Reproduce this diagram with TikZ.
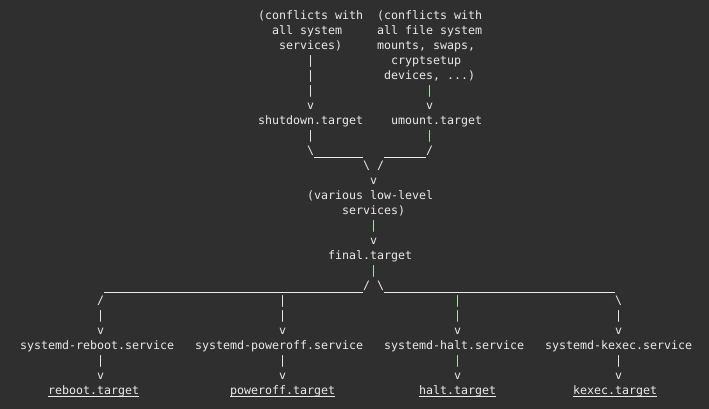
\documentclass[tikz,border=0pt]{standalone}
\usepackage{fontspec}
\setmonofont{DejaVu Sans Mono}
\definecolor{bg}{HTML}{2F2F2F}
\definecolor{fg}{HTML}{EAEAEA}
\definecolor{gn}{HTML}{A8E8A8}
\tikzset{
  tx/.style={anchor=base west, inner sep=0pt, outer sep=0pt, text=fg,
             font=\ttfamily\fontsize{11.63}{15}\selectfont},
  gx/.style={tx, text=gn},
  rule/.style={draw=fg, line width=0.9pt},
  uline/.style={draw=fg, line width=0.9pt}
}
\begin{document}
\begin{tikzpicture}
\fill[bg] (0,0) rectangle (709pt,-409pt);
\useasboundingbox (0,0) rectangle (709pt,-409pt);
\begin{scope}[x=7pt, y=-15pt, shift={(20pt,-19.8pt)}]
% top labels
\node[tx] (c1a) at (34,0) {(conflicts with};
\node[tx] (c2a) at (51,0) {(conflicts with};
\node[tx] (c1b) at (36,1) {all system};
\node[tx] (c2b) at (51,1) {all file system};
\node[tx] (c1c) at (37,2) {services)};
\node[tx] (c2c) at (51,2) {mounts, swaps,};
\node[tx] (c2d) at (53,3) {cryptsetup};
\node[tx] (c2e) at (52,4) {devices, ...)};
% shutdown column
\node[tx] (s1) at (41,3) {|};
\node[tx] (s2) at (41,4) {|};
\node[tx] (s3) at (41,5) {|};
\node[tx] (s4) at (41,6) {v};
\node[gx] (u1) at (58,5) {|};
\node[tx] (u2) at (58,6) {v};
\node[tx] (shut) at (34,7) {shutdown.target};
\node[tx] (umnt) at (53,7) {umount.target};
\node[tx] (s5) at (41,8) {|};
\node[gx] (u3) at (58,8) {|};
\node[tx] (s6) at (41,9) {\textbackslash};
\node[tx] (u4) at (58,9) {/};
\coordinate (l1a) at (42,9.147);
\coordinate (l1b) at (49,9.147);
\coordinate (l2a) at (52,9.147);
\coordinate (l2b) at (58,9.147);
\draw[rule] (l1a) -- (l1b);
\draw[rule] (l2a) -- (l2b);
\node[tx] (m1) at (49,10) {\textbackslash};
\node[tx] (m2) at (51,10) {/};
\node[tx] (m3) at (50,11) {v};
\node[tx] (low1) at (41,12) {(various low-level};
\node[tx] (low2) at (46,13) {services)};
\node[gx] (m4) at (50,14) {|};
\node[tx] (m5) at (50,15) {v};
\node[tx] (fin) at (44,16) {final.target};
\node[gx] (m6) at (50,17) {|};
\node[tx] (m7) at (49,18) {/};
\node[tx] (m8) at (51,18) {\textbackslash};
\coordinate (l3a) at (12,18.167);
\coordinate (l3b) at (49,18.167);
\coordinate (l4a) at (52,18.167);
\coordinate (l4b) at (85,18.167);
\draw[rule] (l3a) -- (l3b);
\draw[rule] (l4a) -- (l4b);
% branches
\node[tx] (a1) at (11,19) {/};
\node[tx] (b1) at (37,19) {|};
\node[gx] (c1) at (62,19) {|};
\node[tx] (d1) at (85,19) {\textbackslash};
\node[tx] (a2) at (11,20) {|};
\node[tx] (b2) at (37,20) {|};
\node[gx] (c2) at (62,20) {|};
\node[tx] (d2) at (85,20) {|};
\node[tx] (a3) at (11,21) {v};
\node[tx] (b3) at (37,21) {v};
\node[tx] (c3) at (62,21) {v};
\node[tx] (d3) at (85,21) {v};
\node[tx] (sreb) at (0,22) {systemd-reboot.service};
\node[tx] (spow) at (25,22) {systemd-poweroff.service};
\node[tx] (shal) at (52,22) {systemd-halt.service};
\node[tx] (skex) at (75,22) {systemd-kexec.service};
\node[tx] (a4) at (11,23) {|};
\node[tx] (b4) at (37,23) {|};
\node[gx] (c4) at (62,23) {|};
\node[tx] (d4) at (85,23) {|};
\node[tx] (a5) at (11,24) {v};
\node[tx] (b5) at (37,24) {v};
\node[tx] (c5) at (62,24) {v};
\node[tx] (d5) at (85,24) {v};
\node[tx] (treb) at (4,25) {reboot.target};
\node[tx] (tpow) at (30,25) {poweroff.target};
\node[tx] (thal) at (57,25) {halt.target};
\node[tx] (tkex) at (79,25) {kexec.target};
\foreach \n in {treb,tpow,thal,tkex}
  \draw[uline] ([yshift=-1.8pt]\n.base west) -- ([yshift=-1.8pt]\n.base east);
\end{scope}
\end{tikzpicture}
\end{document}
